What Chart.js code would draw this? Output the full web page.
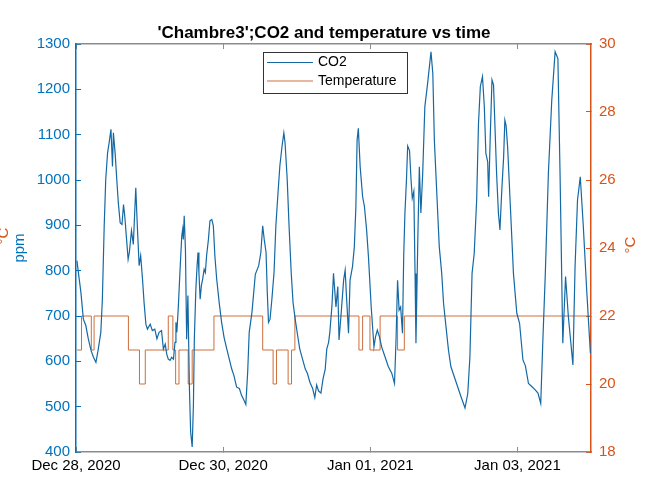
<!DOCTYPE html>
<html>
<head>
<meta charset="utf-8">
<script src="https://cdn.jsdelivr.net/npm/chart.js@4.4.0/dist/chart.umd.min.js"></script>
<style>
  html, body { margin: 0; padding: 0; background: #fff; }
</style>
</head>
<body>
<canvas id="lineChart" width="648" height="479"></canvas>
<script>
// hours since Dec 28, 2020 00:00
const co2Hours = [
  0.3, 0.7, 1.6, 2.4, 3.2, 4.0, 4.9, 5.7, 6.5, 7.2, 8.1, 8.6, 9.2, 9.7, 10.3, 10.8, 11.4, 11.9, 12.2, 12.8,
  13.3, 13.8, 14.4, 15.0, 15.5, 15.9, 16.5, 17.0, 17.4, 18.1, 18.7, 19.5, 20.0, 20.6, 21.1, 21.7, 22.2, 22.8, 23.3, 24.2,
  24.9, 25.7, 26.4, 27.1, 27.9,
  28.5, 29.1, 29.6, 30.1, 30.7, 31.2, 31.8, 32.3, 32.6, 32.9, 33.4, 33.9, 34.5, 34.8, 35.0, 35.3, 35.7, 36.1, 36.5, 37.0,
  37.4, 37.9, 38.3, 38.6, 39.1, 39.5, 39.8, 40.1, 40.5, 40.9, 41.3, 41.8, 42.2, 42.6, 43.2, 43.7, 44.3, 44.8, 45.3, 45.9,
  46.7, 47.5, 48.3, 49.2, 50.0, 50.8, 51.5, 52.4, 53.3, 54.0, 54.8, 55.4,
  56.0, 56.5, 57.4, 58.5, 59.6, 60.3, 60.9, 61.4, 62.0, 62.4, 62.8, 63.3, 63.9, 64.6, 65.2, 65.9, 66.5, 67.2, 67.8, 68.2,
  68.9, 69.5, 70.2, 70.8, 71.5, 72.3, 73.0, 73.9, 74.8, 75.5, 76.3, 77.2, 77.9, 78.5, 79.1, 79.9, 80.6, 81.3, 81.8, 82.4,
  82.8, 83.5,
  84.0, 84.8, 85.4, 85.8, 86.5, 87.3, 87.8, 88.3, 88.9, 89.4, 90.2, 90.8, 91.3, 91.7, 92.1, 92.7, 93.5, 94.1, 94.8, 95.4,
  96.3, 97.2, 97.7, 98.3, 99.0, 99.7, 100.8, 101.9, 103.0, 103.9, 104.4, 104.9, 105.4, 105.9, 106.5, 106.9, 107.3, 107.8, 108.2, 108.8,
  109.3, 109.7, 110.2, 110.6, 110.9, 111.5,
  112.0, 112.5, 113.1, 113.8, 114.7, 115.8, 116.4, 116.9, 117.8, 118.5, 119.3, 119.9, 120.7, 121.5, 122.3, 123.4, 124.5, 125.6, 126.9, 127.8,
  128.5, 129.2, 129.9, 130.7, 131.3, 131.9, 132.6, 133.2, 133.7, 134.3, 134.6, 135.1, 135.7, 136.2, 137.2, 137.8, 138.3, 138.9, 139.5, 139.9,
  140.3, 140.8, 141.7, 142.7, 143.8, 144.7, 145.8, 146.6, 147.6, 148.6, 149.8, 150.7, 151.6, 152.3, 153.1, 154.1, 155.2, 156.3, 157.2, 157.9,
  158.8, 159.7, 160.6, 162.1, 162.8, 163.6, 164.5, 165.5, 166.6, 167.8
];
const co2Ppm = [
  822, 800, 752, 693, 679, 650, 624, 609, 598, 624, 664, 737, 899, 1001, 1060, 1082, 1112, 1030, 1104, 1056,
  1001, 950, 906, 902, 946, 921, 869, 825, 840, 888, 858, 983, 899, 811, 833, 781, 730, 682, 671, 682,
  668, 671, 650, 664, 668,
  627, 638, 616, 605, 602, 609, 605, 642, 686, 664, 723, 796, 877, 891, 869, 921, 847, 649, 745, 540,
  444, 411, 503, 649, 759, 811, 840, 796, 737, 767, 781, 803, 796, 833, 869, 910, 913, 899, 833, 781,
  730, 686, 653, 627, 605, 583, 569, 543, 540, 525, 514, 505,
  576, 664, 708, 792, 811, 840, 899, 869, 840, 752, 686, 693, 737, 796, 899, 972, 1031, 1074, 1104, 1082,
  1001, 899, 796, 730, 693, 657, 627, 605, 583, 573, 554, 540, 520, 548, 535, 530, 562, 583, 627, 642,
  664, 723,
  794, 720, 765, 647, 706, 779, 801, 735, 662, 779, 809, 853, 941, 1088, 1114, 1029, 963, 941, 890, 831,
  720, 632, 654, 669, 654, 632, 610, 588, 574, 551, 647, 779, 713, 720, 662, 831, 927, 1000, 1075, 1065,
  1000, 960, 975, 794, 640, 868,
  1029, 927, 1015, 1162, 1213, 1283, 1235, 1088, 956, 853, 794, 728, 676, 625, 588, 566, 544, 522, 497, 529,
  610, 794, 838, 956, 1125, 1206, 1228, 1162, 1059, 1040, 963, 1088, 1221, 1210, 1015, 927, 890, 978, 1051, 1132,
  1120, 1073, 941, 794, 706, 684, 603, 590, 551, 545, 537, 530, 507, 647, 794, 1015, 1176, 1283, 1268, 1015,
  640, 787, 700, 592, 809, 956, 1007, 897, 757, 618
];

// temperature steps: value holds from each time until the next one
const tempHours = [0.3, 1.8, 5.0, 5.9, 17.1, 20.7, 22.6, 30.1, 31.6, 32.5, 33.6, 36.6, 37.9, 45.0, 60.9, 64.3, 65.4,
  69.2, 70.3, 71.4, 92.3, 93.5, 95.9, 99.2, 104.9, 107.1, 167.8];
const tempC = [21, 22, 21, 22, 21, 20, 21, 22, 21, 20, 21, 20, 21, 22, 21, 20, 21,
  20, 21, 22, 21, 22, 21, 22, 21, 22, 22];

const xTickHours = [0, 48, 96, 144];
const xTickLabels = ['Dec 28, 2020', 'Dec 30, 2020', 'Jan 01, 2021', 'Jan 03, 2021'];

const chartTitle = "'Chambre3';CO2 and temperature vs time";
const leftAxisTitle = 'ppm';
const rightAxisTitle = '°C';

const blue = 'rgb(0,114,189)';
const lineBlue = 'rgb(20,105,165)';
const orange = 'rgb(217,83,25)';
const grey = 'rgb(140,140,140)';
const fontFamily = '"Liberation Sans", Arial, Helvetica, sans-serif';
const tickFont = { family: fontFamily, size: 15 };

function setTicks(scale) {
  scale.ticks = xTickHours.map(v => ({ value: v }));
}

// MATLAB-like legend box, right axis label and the clipped label on the far left
const extras = {
  id: 'extras',
  afterDraw(chart) {
    const ctx = chart.ctx;
    const area = chart.chartArea;
    const midY = (area.top + area.bottom) / 2;

    ctx.save();
    ctx.font = '15px ' + fontFamily;
    ctx.textAlign = 'center';
    ctx.textBaseline = 'middle';
    ctx.fillStyle = orange;
    ctx.translate(631, midY - 3);
    ctx.rotate(-Math.PI / 2);
    ctx.fillText(rightAxisTitle, 0, 0);
    ctx.restore();

    ctx.save();
    ctx.font = '15px ' + fontFamily;
    ctx.textAlign = 'center';
    ctx.textBaseline = 'alphabetic';
    ctx.fillStyle = orange;
    ctx.translate(7.5, midY - 12);
    ctx.rotate(-Math.PI / 2);
    ctx.fillText(rightAxisTitle, 0, 0);
    ctx.restore();

    // legend
    ctx.save();
    ctx.fillStyle = '#fff';
    ctx.fillRect(263, 52, 144, 41);
    ctx.strokeStyle = 'rgb(50,50,50)';
    ctx.lineWidth = 1;
    ctx.strokeRect(263.5, 52.5, 144, 41);
    ctx.font = '14px ' + fontFamily;
    ctx.textAlign = 'left';
    ctx.textBaseline = 'middle';
    chart.data.datasets.forEach((ds, i) => {
      const y = 62.5 + i * 18.5;
      ctx.strokeStyle = ds.borderColor;
      ctx.lineWidth = 1;
      ctx.beginPath();
      ctx.moveTo(267, y);
      ctx.lineTo(313, y);
      ctx.stroke();
      ctx.fillStyle = '#000';
      ctx.fillText(ds.label, 318, y);
    });
    ctx.restore();
  }
};

const ctx = document.getElementById('lineChart').getContext('2d');

new Chart(ctx, {
  type: 'line',
  data: {
    datasets: [
      {
        label: 'CO2',
        data: co2Hours.map((h, i) => ({ x: h, y: co2Ppm[i] })),
        borderColor: lineBlue,
        borderWidth: 1.2,
        pointRadius: 0,
        fill: false,
        yAxisID: 'y'
      },
      {
        label: 'Temperature',
        data: tempHours.map((h, i) => ({ x: h, y: tempC[i] })),
        borderColor: 'rgb(205,110,60)',
        borderWidth: 1,
        pointRadius: 0,
        stepped: true,
        fill: false,
        yAxisID: 'y1'
      }
    ]
  },
  options: {
    responsive: false,
    animation: false,
    layout: { padding: 0 },
    plugins: {
      legend: { display: false },
      tooltip: { enabled: false },
      title: {
        display: true,
        text: chartTitle,
        color: '#000',
        font: { family: fontFamily, size: 17, weight: 'bold' },
        padding: { top: 23, bottom: 0.6 }
      }
    },
    scales: {
      x: {
        type: 'linear',
        position: 'bottom',
        min: 0,
        max: 168,
        afterBuildTicks: setTicks,
        ticks: {
          callback: (v, i) => xTickLabels[i],
          color: '#000',
          font: tickFont,
          padding: 10,
          maxRotation: 0,
          autoSkip: false
        },
        grid: { drawOnChartArea: false, tickLength: -5, tickColor: grey },
        border: { color: grey, width: 1.5 },
        afterFit: s => { s.height = 27; }
      },
      x2: {
        type: 'linear',
        position: 'top',
        min: 0,
        max: 168,
        afterBuildTicks: setTicks,
        ticks: { display: false },
        grid: { drawOnChartArea: false, tickLength: -5, tickColor: grey },
        border: { color: grey, width: 1.5 },
        afterFit: s => { s.height = 0; }
      },
      y: {
        type: 'linear',
        position: 'left',
        min: 400,
        max: 1300,
        ticks: { stepSize: 100, color: blue, font: tickFont, padding: 11, callback: v => String(v) },
        grid: { drawOnChartArea: false, tickLength: -5, tickColor: blue },
        border: { color: blue, width: 1.5 },
        title: { display: true, text: leftAxisTitle, color: blue, font: tickFont, padding: { top: 11, bottom: 0 } },
        afterFit: s => { s.width = 76; }
      },
      y1: {
        type: 'linear',
        position: 'right',
        min: 18,
        max: 30,
        ticks: { stepSize: 2, color: orange, font: tickFont, padding: 13, callback: v => String(v) },
        grid: { drawOnChartArea: false, tickLength: -5, tickColor: orange },
        border: { color: orange, width: 1.5 },
        afterFit: s => { s.width = 57; }
      }
    }
  },
  plugins: [extras]
});
</script>
</body>
</html>
